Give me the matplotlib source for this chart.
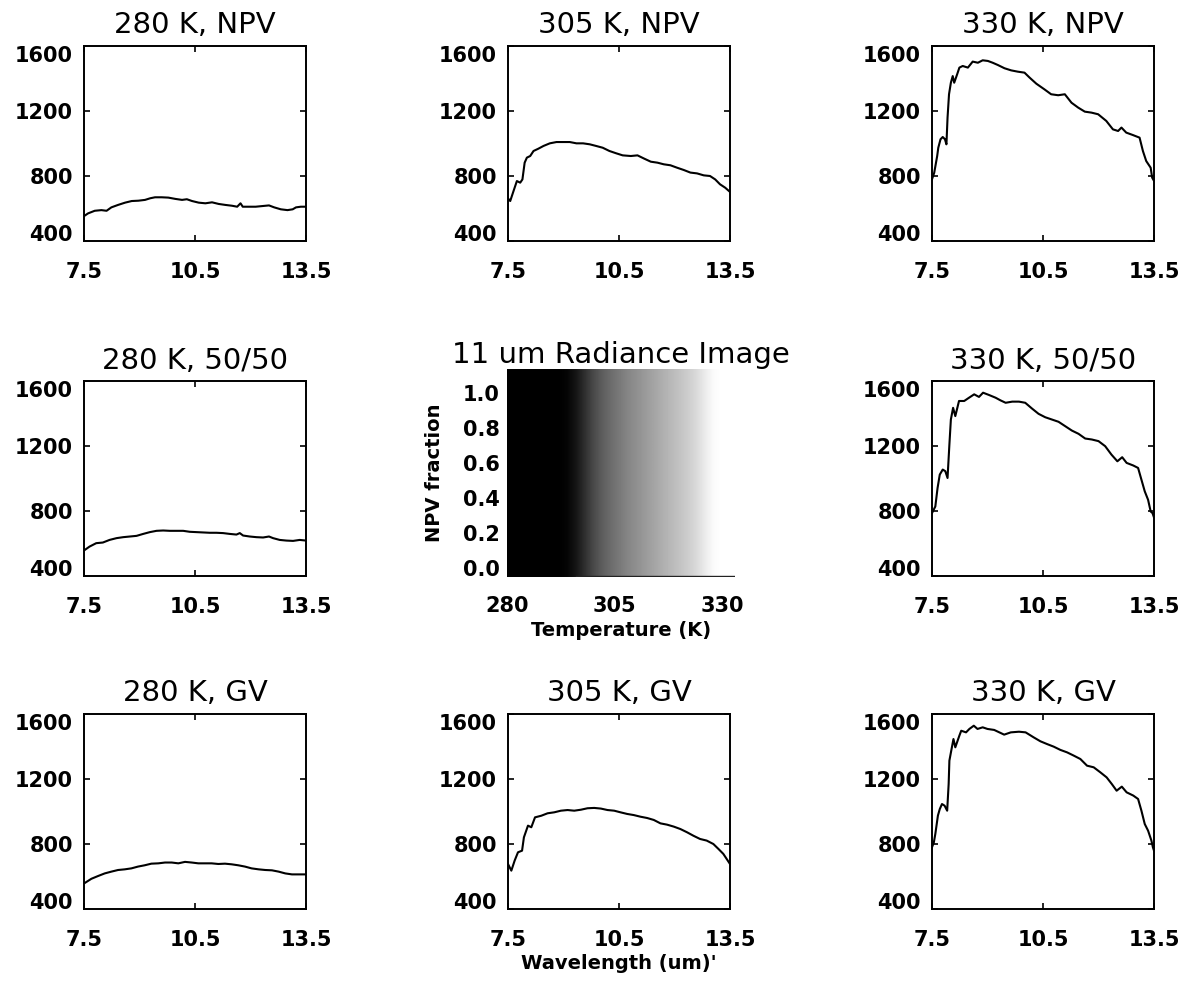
import numpy as np
import matplotlib
matplotlib.use("Agg")
import matplotlib.pyplot as plt

# ---------------------------------------------------------------------------
# Simulated at-sensor radiance spectra (7.5 - 13.5 um) for three surface
# temperatures and three cover mixtures (NPV, 50/50, GV)
# ---------------------------------------------------------------------------
wl_280_npv = [7.50, 7.61, 7.79, 7.97, 8.11, 8.24, 8.42, 8.61, 8.79, 8.97, 9.15, 9.29,
              9.42, 9.60, 9.78, 9.97, 10.15, 10.28, 10.42, 10.60, 10.78, 10.96, 11.14,
              11.32, 11.50, 11.64, 11.73, 11.79, 11.96, 12.14, 12.32, 12.50, 12.64,
              12.82, 13.00, 13.14, 13.23, 13.36, 13.50]
rad_280_npv = [553, 570, 586, 590, 586, 607, 622, 636, 646, 648, 653, 663,
               669, 669, 667, 659, 653, 657, 646, 636, 632, 638, 628,
               622, 617, 611, 632, 611, 611, 611, 615, 619, 607,
               595, 590, 595, 607, 611, 611]

wl_280_mix = [7.50, 7.65, 7.83, 8.01, 8.19, 8.38, 8.56, 8.74, 8.92, 9.10, 9.28, 9.46,
              9.64, 9.82, 10.00, 10.18, 10.36, 10.54, 10.72, 10.90, 11.08, 11.26,
              11.44, 11.62, 11.71, 11.80, 11.98, 12.16, 12.34, 12.50, 12.61, 12.79,
              12.97, 13.15, 13.33, 13.50]
rad_280_mix = [557, 581, 602, 606, 622, 633, 639, 643, 647, 659, 670, 678,
               680, 678, 678, 678, 672, 670, 668, 666, 666, 664,
               659, 655, 664, 649, 643, 639, 637, 643, 633, 622,
               618, 616, 622, 618]

wl_280_gv = [7.50, 7.70, 7.88, 8.06, 8.24, 8.42, 8.60, 8.78, 8.96, 9.14, 9.32, 9.51,
             9.69, 9.87, 10.05, 10.23, 10.41, 10.59, 10.77, 10.95, 11.13, 11.31,
             11.49, 11.67, 11.85, 12.03, 12.22, 12.40, 12.58, 12.76, 12.94, 13.12,
             13.30, 13.50]
rad_280_gv = [557, 586, 603, 619, 630, 640, 644, 650, 661, 669, 679, 681,
              686, 686, 681, 690, 686, 681, 681, 681, 677, 679,
              675, 669, 661, 650, 644, 640, 638, 630, 619, 613,
              613, 613]

wl_305_npv = [7.50, 7.56, 7.65, 7.74, 7.83, 7.89, 7.95, 8.01, 8.10, 8.19, 8.32, 8.46,
              8.63, 8.81, 8.99, 9.17, 9.35, 9.53, 9.71, 9.88, 10.06, 10.24, 10.42,
              10.60, 10.82, 11.00, 11.18, 11.36, 11.54, 11.71, 11.89, 12.07, 12.25,
              12.43, 12.61, 12.79, 12.96, 13.10, 13.23, 13.37, 13.50]
rad_305_npv = [662, 646, 708, 769, 759, 779, 882, 913, 923, 954, 968, 985,
               1001, 1009, 1009, 1009, 1001, 1001, 995, 985, 974, 954, 940,
               927, 923, 927, 907, 888, 882, 872, 866, 851, 837,
               821, 816, 804, 800, 779, 749, 728, 702]

wl_305_gv = [7.50, 7.59, 7.68, 7.77, 7.88, 7.93, 8.04, 8.13, 8.23, 8.40, 8.57, 8.75,
             8.93, 9.11, 9.29, 9.47, 9.65, 9.83, 10.01, 10.19, 10.37, 10.54, 10.72,
             10.90, 11.08, 11.26, 11.44, 11.62, 11.80, 11.98, 12.16, 12.34, 12.51,
             12.69, 12.87, 13.05, 13.19, 13.32, 13.41, 13.50]
rad_305_gv = [677, 636, 698, 749, 759, 841, 913, 903, 964, 974, 989, 995,
              1005, 1009, 1005, 1011, 1020, 1022, 1018, 1009, 1005, 995, 985,
              978, 968, 960, 948, 927, 919, 907, 892, 872, 851,
              831, 821, 800, 769, 739, 708, 677]

wl_330_npv = [7.50, 7.56, 7.64, 7.67, 7.73, 7.79, 7.85, 7.89, 7.92, 7.96, 8.01, 8.06,
              8.10, 8.18, 8.24, 8.33, 8.47, 8.60, 8.74, 8.87, 9.01, 9.14, 9.28, 9.46,
              9.64, 9.82, 10.00, 10.14, 10.32, 10.54, 10.72, 10.91, 11.09, 11.27,
              11.45, 11.63, 11.81, 11.99, 12.21, 12.39, 12.53, 12.62, 12.75, 12.93,
              13.11, 13.20, 13.29, 13.41, 13.45, 13.50]
rad_330_npv = [780, 820, 923, 974, 1026, 1040, 1026, 995, 1159, 1303, 1374, 1415,
               1374, 1426, 1467, 1477, 1467, 1504, 1497, 1512, 1508, 1497, 1483, 1463,
               1450, 1442, 1436, 1405, 1368, 1333, 1303, 1297, 1303, 1251,
               1221, 1196, 1190, 1180, 1139, 1087, 1077, 1098, 1067, 1052,
               1036, 954, 892, 851, 790, 770]

wl_330_mix = [7.50, 7.59, 7.65, 7.71, 7.79, 7.86, 7.92, 7.97, 8.01, 8.07, 8.13, 8.23,
              8.37, 8.50, 8.64, 8.77, 8.88, 9.04, 9.22, 9.35, 9.49, 9.67, 9.85,
              10.02, 10.20, 10.38, 10.56, 10.74, 10.92, 11.10, 11.28, 11.46, 11.64,
              11.82, 12.00, 12.18, 12.35, 12.51, 12.64, 12.76, 12.94, 13.07, 13.16,
              13.25, 13.34, 13.41, 13.46, 13.50]
rad_330_mix = [787, 828, 941, 1024, 1055, 1045, 1003, 1209, 1363, 1435, 1384, 1477,
               1477, 1497, 1518, 1502, 1528, 1514, 1497, 1481, 1466, 1473, 1473,
               1466, 1431, 1398, 1377, 1363, 1349, 1322, 1295, 1275, 1246,
               1240, 1230, 1199, 1147, 1106, 1131, 1096, 1080, 1065, 993,
               921, 869, 797, 787, 760]

wl_330_gv = [7.50, 7.55, 7.59, 7.66, 7.71, 7.77, 7.84, 7.91, 7.95, 7.97, 8.02, 8.08,
             8.13, 8.24, 8.29, 8.42, 8.51, 8.63, 8.73, 8.87, 9.00, 9.18, 9.32, 9.45,
             9.63, 9.85, 10.03, 10.25, 10.43, 10.61, 10.79, 10.97, 11.15, 11.33,
             11.51, 11.69, 11.87, 12.05, 12.22, 12.36, 12.49, 12.63, 12.76, 12.94,
             13.07, 13.16, 13.25, 13.34, 13.43, 13.47, 13.50]
rad_330_gv = [780, 810, 862, 975, 1015, 1046, 1036, 1005, 1169, 1313, 1374, 1446,
              1395, 1467, 1497, 1487, 1508, 1528, 1508, 1518, 1508, 1502, 1487, 1473,
              1487, 1491, 1487, 1456, 1432, 1415, 1399, 1379, 1364, 1344,
              1323, 1282, 1272, 1241, 1210, 1169, 1128, 1153, 1118, 1098,
              1077, 1005, 923, 882, 821, 780, 759]

titles = ["280 K, NPV", "305 K, NPV", "330 K, NPV",
          "280 K, 50/50", None, "330 K, 50/50",
          "280 K, GV", "305 K, GV", "330 K, GV"]

wl_ticks = [7.5, 10.5, 13.5]
wl_ticklabels = ["7.5", "10.5", "13.5"]
rad_ticks = [400, 800, 1200, 1600]
rad_ticklabels = ["400", "800", "1200", "1600"]

# 11 um radiance image: grey level across temperature (same for all NPV fractions)
img_temp = [280, 282, 284, 286, 288, 290, 292, 294, 296, 298, 300, 302, 304, 306,
            308, 310, 312, 314, 316, 318, 320, 322, 324, 326, 328, 330, 332, 334]
img_grey = [0.0, 0.0, 0.0, 0.0, 0.0, 0.0, 0.0, 0.02, 0.08, 0.18, 0.28, 0.36, 0.42,
            0.47, 0.52, 0.56, 0.60, 0.64, 0.68, 0.72, 0.76, 0.80, 0.85, 0.92, 0.98,
            1.0, 1.0, 1.0]
edge_temp = [296, 333]
edge_frac = [-0.045, -0.045]
temp_ticks = [280, 305, 330]
frac_ticks = [0.0, 0.2, 0.4, 0.6, 0.8, 1.0]

# ---------------------------------------------------------------------------
W, H = 1192, 983
fig = plt.figure(figsize=(W / 100, H / 100), dpi=100)
plt.rcParams["font.family"] = ["DejaVu Sans"]


def px_axes(left, top, right, bottom):
    return fig.add_axes([left / W, 1 - bottom / H, (right - left) / W, (bottom - top) / H])


col_left = [84, 508, 932]
col_w = 222
row_top = [46, 381, 714]
row_h = 195

spectra = {
    (0, 0): (wl_280_npv, rad_280_npv),
    (0, 1): (wl_305_npv, rad_305_npv),
    (0, 2): (wl_330_npv, rad_330_npv),
    (1, 0): (wl_280_mix, rad_280_mix),
    (1, 2): (wl_330_mix, rad_330_mix),
    (2, 0): (wl_280_gv, rad_280_gv),
    (2, 1): (wl_305_gv, rad_305_gv),
    (2, 2): (wl_330_gv, rad_330_gv),
}

for (r, c), (wl, rad) in spectra.items():
    ax = px_axes(col_left[c], row_top[r], col_left[c] + col_w, row_top[r] + row_h)
    ax.plot(wl, rad, color="black", lw=1.5)
    ax.set_xlim(7.5, 13.5)
    ax.set_ylim(400, 1600)
    ax.set_xticks(wl_ticks)
    ax.set_xticklabels(wl_ticklabels, fontweight="bold", fontsize=15)
    ax.set_yticks(rad_ticks)
    ylabels = ax.set_yticklabels(rad_ticklabels, fontweight="bold", fontsize=15)
    # end labels of the radiance axis sit inside the frame height
    ylabels[-1].set_verticalalignment("top")
    ylabels[0].set_verticalalignment("baseline")
    ax.tick_params(axis="both", direction="in", length=4, width=1.2,
                   top=True, right=True, color="black")
    ax.tick_params(axis="x", pad=15)
    ax.tick_params(axis="y", pad=8)
    for s in ax.spines.values():
        s.set_linewidth(1.4)
    ax.set_title(titles[r * 3 + c], fontsize=21, pad=9)
    if (r, c) == (2, 1):
        ax.set_xlabel("Wavelength (um)'", fontweight="bold", fontsize=14, labelpad=3)

# centre panel: radiance image over temperature x NPV fraction
t0, t1 = 280.9, 333.0
f0, f1 = -0.051, 1.137
axi = px_axes(507, 369, 735, 577)
img = np.array([img_grey])
axi.imshow(img, extent=[img_temp[0] - 1, img_temp[-1] + 1, f0, f1], aspect="auto",
           cmap="gray", vmin=0, vmax=1, interpolation="bilinear")
axi.plot(edge_temp, edge_frac, color="#222222", lw=1.0)
axi.set_xlim(t0, t1)
axi.set_ylim(f0, f1)
for s in axi.spines.values():
    s.set_visible(False)
axi.set_xticks(temp_ticks)
axi.set_xticklabels([str(t) for t in temp_ticks], fontweight="bold", fontsize=15)
axi.set_yticks(frac_ticks)
axi.set_yticklabels([f"{f:.1f}" for f in frac_ticks], fontweight="bold", fontsize=15)
axi.tick_params(axis="both", length=0)
axi.tick_params(axis="x", pad=14)
axi.tick_params(axis="y", pad=5)
axi.set_title("11 um Radiance Image", fontsize=21, pad=3)
axi.set_xlabel("Temperature (K)", fontweight="bold", fontsize=14, labelpad=3)
axi.set_ylabel("NPV fraction", fontweight="bold", fontsize=14, labelpad=14)

fig.savefig("out.png", dpi=100, facecolor="white")
